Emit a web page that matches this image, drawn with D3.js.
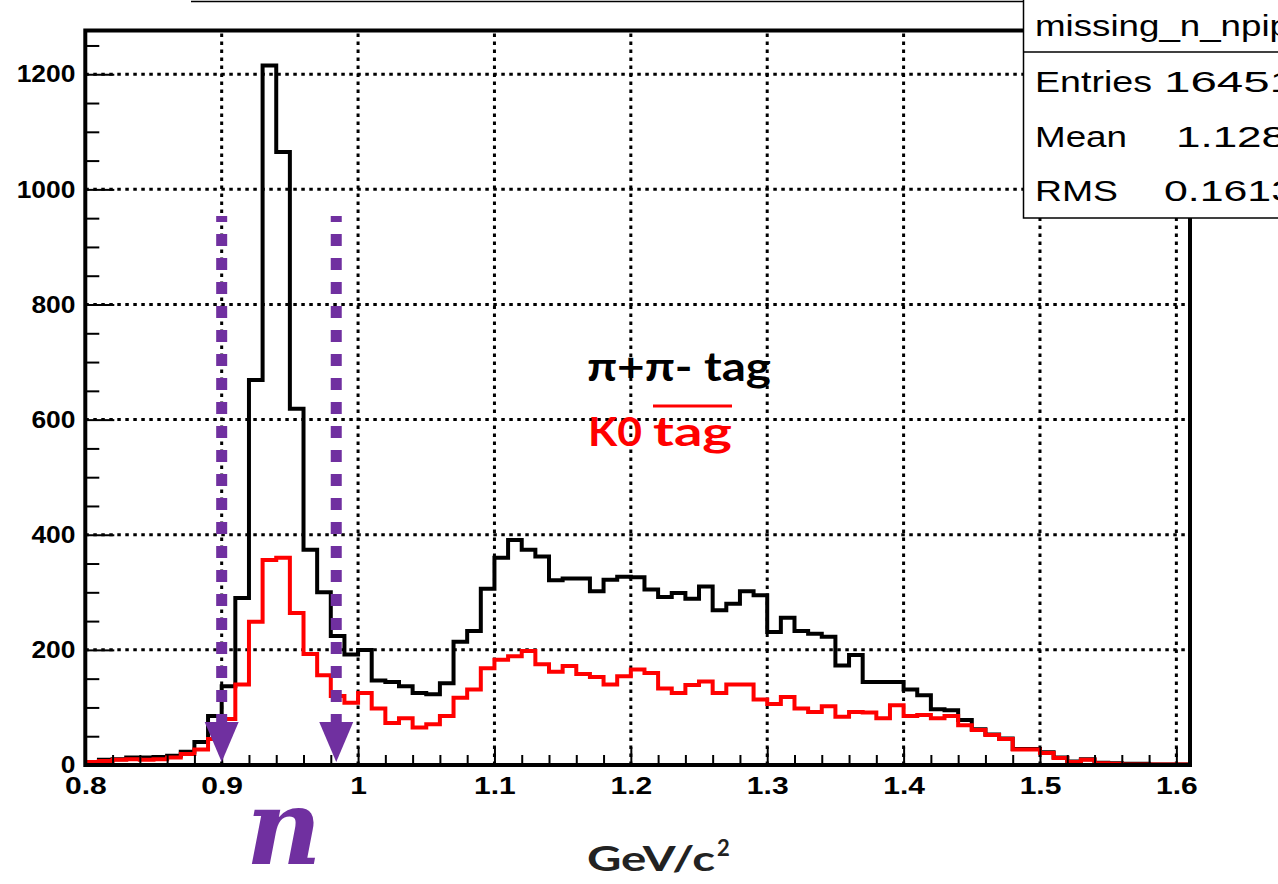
<!DOCTYPE html>
<html><head><meta charset="utf-8">
<script src="https://cdn.jsdelivr.net/npm/d3@7"></script>
<style>
html,body{margin:0;padding:0;background:#fff;overflow:hidden}
svg{display:block}
</style></head>
<body>
<svg id="c" width="1278" height="884"></svg>
<script>
// ---------------- data ----------------
const binStart = 0.80;
const binWidth = 0.01;
// pi+pi- tag (black)
const pipiTag = [5,9,10,13,13,14,16,23,40,85,
  137,290,669,1215,1065,619,374,300,224,192,
  200,147,144,137,125,123,142,214,233,306,
  360,391,374,362,321,324,324,302,322,327,
  326,305,292,299,289,310,269,280,302,295,
  231,256,233,228,223,173,191,144,144,144,
  131,121,97,95,78,62,53,46,28,28,
  22,13,6,10,4,3,2,2,1,1,1];
// K0 tag-bar (red)
const k0Tag = [5,7,9,10,9,10,13,19,27,45,
  80,140,249,356,360,264,193,156,120,108,
  125,98,73,81,65,71,85,117,131,168,
  183,189,198,175,162,172,158,153,140,154,
  166,160,133,125,139,145,125,140,140,114,
  106,118,98,92,102,84,92,91,81,104,
  85,87,81,85,69,61,52,45,27,27,
  21,12,5,9,3,2,1,1,1,1,1];
const xMajorTicks = [0.8,0.9,1.0,1.1,1.2,1.3,1.4,1.5,1.6];
const xTickLabels = ["0.8","0.9","1","1.1","1.2","1.3","1.4","1.5","1.6"];
const xMinorTicks = [0.82,0.84,0.86,0.88,0.92,0.94,0.96,0.98,1.02,1.04,1.06,1.08,1.12,1.14,1.16,1.18,1.22,1.24,1.26,1.28,1.32,1.34,1.36,1.38,1.42,1.44,1.46,1.48,1.52,1.54,1.56,1.58];
const yMajorTicks = [0,200,400,600,800,1000,1200];
const yTickLabels = ["0","200","400","600","800","1000","1200"];
const yMinorTicks = [50,100,150,250,300,350,450,500,550,650,700,750,850,900,950,1050,1100,1150,1250];
const cutValues = [0.9, 0.984];
const statLabels = ["Entries","Mean","RMS"];
const statValues = ["16451","1.128","0.1613"];
const histTitle = "missing_n_npip";

// ---------------- layout ----------------
const svg = d3.select("#c");
const X0 = 85.3, X1 = 1190, Y0 = 765, Y1 = 30.5;
const x = d3.scaleLinear().domain([0.8, 1.61]).range([X0, X1]);
const y = d3.scaleLinear().domain([0, 1276]).range([Y0, Y1]);

svg.append("rect").attr("width",1278).attr("height",884).attr("fill","#fff");

// top title-box remnant line
svg.append("line").attr("x1",191).attr("x2",1030).attr("y1",1.5).attr("y2",1.5)
  .attr("stroke","#000").attr("stroke-width",1.5);

// clip
svg.append("clipPath").attr("id","plotclip").append("rect")
  .attr("x",X0).attr("y",Y1).attr("width",X1-X0).attr("height",Y0-Y1);

// grid
const grid = svg.append("g").attr("stroke","#000").attr("stroke-width",3)
  .attr("stroke-dasharray","3.5,4.5");
grid.selectAll("line.v").data(xMajorTicks.filter(d=>d>0.8)).enter().append("line")
  .attr("x1",d=>x(d)).attr("x2",d=>x(d)).attr("y1",Y0).attr("y2",Y1);
grid.selectAll("line.h").data(yMajorTicks.filter(d=>d>0)).enter().append("line")
  .attr("x1",X0).attr("x2",X1).attr("y1",d=>y(d)).attr("y2",d=>y(d));

// histograms
function stepData(vals){
  const pts = vals.map((v,i)=>[binStart+i*binWidth, v]);
  pts.push([binStart+vals.length*binWidth, vals[vals.length-1]]);
  return pts;
}
const line = d3.line().x(d=>x(d[0])).y(d=>y(d[1])).curve(d3.curveStepAfter);
const hg = svg.append("g").attr("clip-path","url(#plotclip)");
hg.append("path").attr("d", line(stepData(pipiTag))).attr("fill","none")
  .attr("stroke","#000").attr("stroke-width",4).attr("stroke-linejoin","miter");
hg.append("path").attr("d", line(stepData(k0Tag))).attr("fill","none")
  .attr("stroke","#ff0000").attr("stroke-width",4).attr("stroke-linejoin","miter");

// axes ticks
const fontTick = "'Liberation Sans', Arial, sans-serif";
const xAxis = svg.append("g").attr("transform",`translate(0,${Y0})`)
  .call(d3.axisBottom(x).tickValues(xMajorTicks).tickSize(-18).tickPadding(12)
    .tickFormat((d,i)=>xTickLabels[i]));
const xAxisMinor = svg.append("g").attr("transform",`translate(0,${Y0})`)
  .call(d3.axisBottom(x).tickValues(xMinorTicks).tickSize(-10).tickFormat(""));
const yAxis = svg.append("g").attr("transform",`translate(${X0},0)`)
  .call(d3.axisLeft(y).tickValues(yMajorTicks).tickSize(-29).tickPadding(9)
    .tickFormat((d,i)=>yTickLabels[i]));
const yAxisMinor = svg.append("g").attr("transform",`translate(${X0},0)`)
  .call(d3.axisLeft(y).tickValues(yMinorTicks).tickSize(-14).tickFormat(""));
[xAxis,xAxisMinor,yAxis,yAxisMinor].forEach(a=>{
  a.select(".domain").remove();
  a.selectAll(".tick line").attr("stroke","#000").attr("stroke-width",2);
  a.selectAll(".tick text").attr("fill","#000").style("font-family",fontTick)
    .style("font-weight","bold").style("font-size","24px");
});
xAxis.selectAll(".tick text").attr("transform","scale(1.25,1)");
yAxis.selectAll(".tick text").attr("transform","scale(1.1,1)");

// frame
svg.append("rect").attr("x",X0).attr("y",Y1).attr("width",X1-X0).attr("height",Y0-Y1)
  .attr("fill","none").attr("stroke","#000").attr("stroke-width",4);

// purple cut arrows
const purple = "#7030A0";
const ag = svg.append("g");
ag.selectAll("line").data(cutValues).enter().append("line")
  .attr("x1",d=>x(d)).attr("x2",d=>x(d)).attr("y1",216).attr("y2",722)
  .attr("stroke",purple).attr("stroke-width",11).attr("stroke-dasharray","12,12")
  .attr("stroke-dashoffset",6);
ag.selectAll("path").data(cutValues).enter().append("path")
  .attr("d",d=>{const cx=x(d); return `M${cx-17},722 L${cx+17},722 L${cx},762 Z`;})
  .attr("fill",purple);

// annotation text
const fontCal = "Lato, 'Open Sans', sans-serif";
svg.append("text").attr("x",587).attr("y",381).text("π+π- tag")
  .attr("textLength",184).attr("lengthAdjust","spacingAndGlyphs")
  .style("font-family",fontCal).style("font-weight","bold").style("font-size","41px").attr("fill","#000");
svg.append("text").attr("x",588).attr("y",446).text("K0")
  .attr("textLength",54).attr("lengthAdjust","spacingAndGlyphs")
  .style("font-family",fontCal).style("font-weight","bold").style("font-size","41px").attr("fill","#ff0000");
svg.append("text").attr("x",653).attr("y",446).text("tag")
  .attr("textLength",79).attr("lengthAdjust","spacingAndGlyphs")
  .style("font-family",fontCal).style("font-weight","bold").style("font-size","41px").attr("fill","#ff0000");
svg.append("line").attr("x1",653).attr("x2",732).attr("y1",406).attr("y2",406)
  .attr("stroke","#ff0000").attr("stroke-width",3);

// x axis title
svg.append("text").attr("x",587).attr("y",871).text("GeV/c")
  .attr("textLength",128).attr("lengthAdjust","spacingAndGlyphs")
  .style("font-family",fontCal).style("font-weight","bold").style("font-size","34px").attr("fill","#222");
svg.append("text").attr("x",717).attr("y",856).text("2")
  .style("font-family",fontCal).style("font-weight","bold").style("font-size","22px").attr("fill","#222");

// neutron symbol
svg.append("text").attr("x",246).attr("y",864).text("n")
  .style("font-family","'DejaVu Serif', serif").style("font-style","italic").style("font-weight","bold")
  .style("font-size","104px").attr("fill",purple);

// stats box
const sb = svg.append("g");
sb.append("rect").attr("x",1023.5).attr("y",-2).attr("width",300).attr("height",220)
  .attr("fill","#fff").attr("stroke","#000").attr("stroke-width",1.5);
sb.append("line").attr("x1",1023.5).attr("x2",1290).attr("y1",52).attr("y2",52)
  .attr("stroke","#000").attr("stroke-width",1.5);
const fontStat = "'Liberation Sans', Arial, sans-serif";
function sText(tx,ty,str,len){
  sb.append("text").attr("x",tx).attr("y",ty).text(str)
    .attr("textLength",len).attr("lengthAdjust","spacingAndGlyphs")
    .style("font-family",fontStat).style("font-size","29px").attr("fill","#000");
}
sText(1035,36,histTitle,255);
const rowsY = [92,147,201];
const labLen = [117,92,83];
statLabels.forEach((l,i)=>sText(1035,rowsY[i],l,labLen[i]));
const valX = [1164,1176,1164];
const valLen = [132,110,131];
statValues.forEach((v,i)=>sText(valX[i],rowsY[i],v,valLen[i]));
</script>
</body></html>
